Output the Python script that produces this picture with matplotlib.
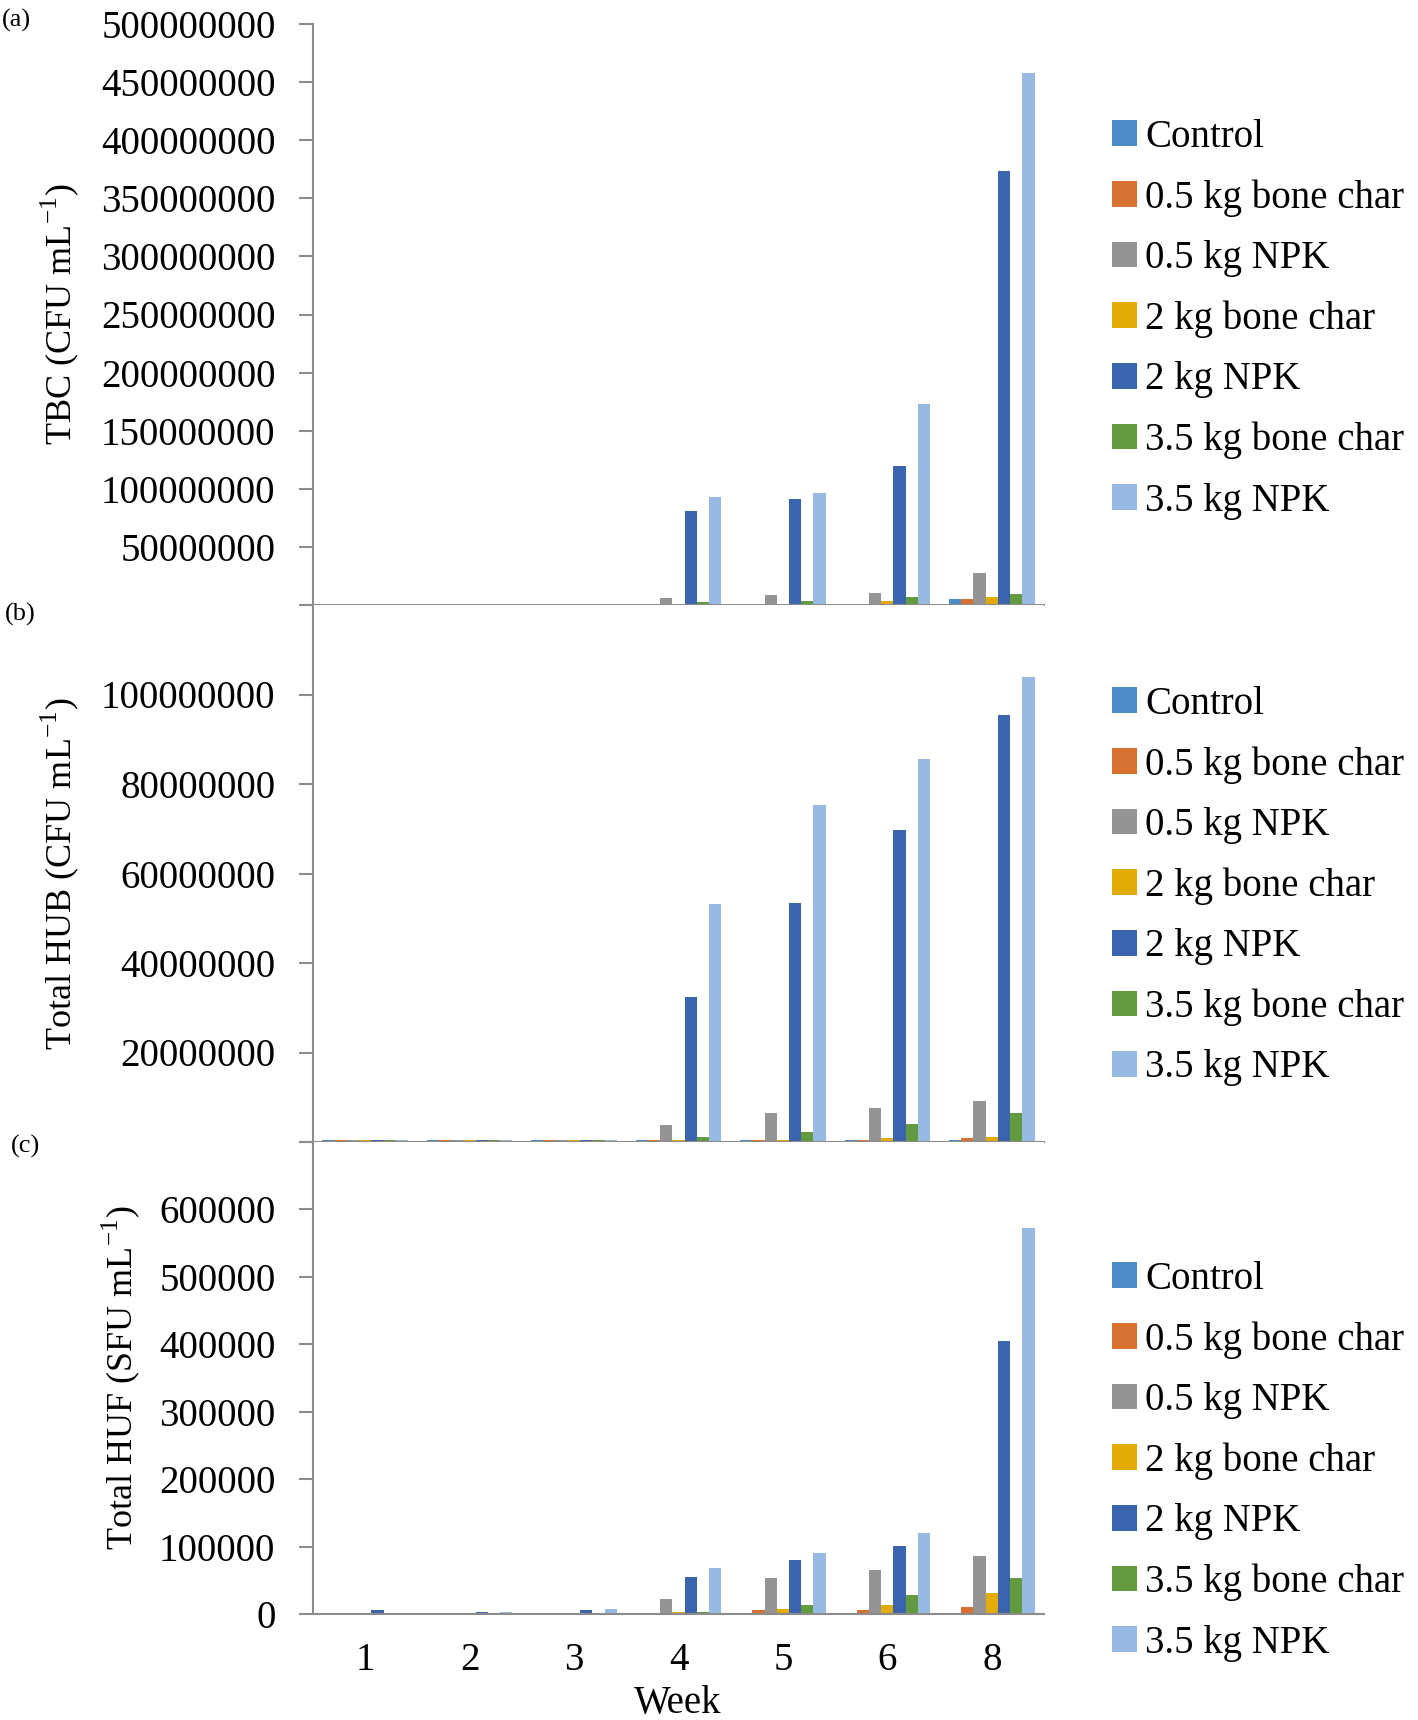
import numpy as np
from matplotlib import pyplot as plt
from matplotlib.patches import Patch

plt.rcParams['font.family'] = ['Liberation Serif', 'DejaVu Serif']
plt.rcParams['mathtext.fontset'] = 'custom'
plt.rcParams['mathtext.rm'] = 'Liberation Serif'

#weeks on the category axis (week 7 was not sampled)
weeks = ['1', '2', '3', '4', '5', '6', '8']
treatments = ['Control', '0.5 kg bone char', '0.5 kg NPK', '2 kg bone char',
              '2 kg NPK', '3.5 kg bone char', '3.5 kg NPK']
colors = ['#4f8bc6', '#d8702f', '#949494', '#e3ab05', '#3a64ad', '#639a3f', '#98b9e1']

#(a) total bacterial count, one list per treatment, values per week
tbc_control = [0, 0, 0, 0, 0, 0, 5.5e6]
tbc_bc05 = [0, 0, 0, 0, 0, 0, 5.5e6]
tbc_npk05 = [0, 0, 0, 5.7e6, 8.3e6, 10e6, 27.3e6]
tbc_bc2 = [0, 0, 0, 0, 0, 3.7e6, 6.9e6]
tbc_npk2 = [0, 0, 0, 81.3e6, 91.4e6, 120e6, 373.6e6]
tbc_bc35 = [0, 0, 0, 2.6e6, 3.7e6, 7.2e6, 9.8e6]
tbc_npk35 = [0, 0, 0, 92.8e6, 96e6, 172.6e6, 457.5e6]

#(b) total heterotrophic bacteria
hub_control = [0.4e6, 0.4e6, 0.4e6, 0.4e6, 0.4e6, 0.4e6, 0.4e6]
hub_bc05 = [0.4e6, 0.4e6, 0.4e6, 0.4e6, 0.4e6, 0.4e6, 0.8e6]
hub_npk05 = [0.4e6, 0.4e6, 0.4e6, 3.9e6, 6.5e6, 7.6e6, 9.1e6]
hub_bc2 = [0.4e6, 0.4e6, 0.4e6, 0.4e6, 0.45e6, 0.8e6, 1.1e6]
hub_npk2 = [0.4e6, 0.4e6, 0.4e6, 32.4e6, 53.4e6, 69.8e6, 95.4e6]
hub_bc35 = [0.4e6, 0.4e6, 0.4e6, 1.1e6, 2.2e6, 4.1e6, 6.4e6]
hub_npk35 = [0.4e6, 0.4e6, 0.4e6, 53.2e6, 75.4e6, 85.6e6, 103.9e6]

#(c) total heterotrophic fungi
huf_control = [0, 0, 0, 0, 0, 0, 0]
huf_bc05 = [0, 0, 0, 0, 5.4e3, 5.4e3, 10.4e3]
huf_npk05 = [0, 0, 0, 22.8e3, 53e3, 65.3e3, 86.1e3]
huf_bc2 = [0, 0, 0, 3e3, 7.9e3, 12.9e3, 30.7e3]
huf_npk2 = [5.4e3, 3e3, 5.4e3, 55.4e3, 80.7e3, 101e3, 405e3]
huf_bc35 = [0, 0, 0, 3e3, 12.9e3, 28.2e3, 53e3]
huf_npk35 = [0, 3e3, 7.9e3, 68.3e3, 90.6e3, 120.8e3, 572e3]

ticks_a = [0, 50e6, 100e6, 150e6, 200e6, 250e6, 300e6, 350e6, 400e6, 450e6, 500e6]
labels_a = ['', '50000000', '100000000', '150000000', '200000000', '250000000',
            '300000000', '350000000', '400000000', '450000000', '500000000']
ticks_b = [0, 20e6, 40e6, 60e6, 80e6, 100e6, 120e6]
labels_b = ['', '20000000', '40000000', '60000000', '80000000', '100000000', '']
ticks_c = [0, 100e3, 200e3, 300e3, 400e3, 500e3, 600e3, 700e3]
labels_c = ['0', '100000', '200000', '300000', '400000', '500000', '600000', '']

panels = [
    ([tbc_control, tbc_bc05, tbc_npk05, tbc_bc2, tbc_npk2, tbc_bc35, tbc_npk35],
     ticks_a, labels_a, 500e6, r'TBC (CFU mL$^{\mathregular{-1}}$)', '(a)'),
    ([hub_control, hub_bc05, hub_npk05, hub_bc2, hub_npk2, hub_bc35, hub_npk35],
     ticks_b, labels_b, 120e6, r'Total HUB (CFU mL$^{\mathregular{-1}}$)', '(b)'),
    ([huf_control, huf_bc05, huf_npk05, huf_bc2, huf_npk2, huf_bc35, huf_npk35],
     ticks_c, labels_c, 700e3, r'Total HUF (SFU mL$^{\mathregular{-1}}$)', '(c)'),
]

W, H = 1418, 1720
fig = plt.figure(figsize=(W / 100, H / 100), dpi=100)

#axes boxes in pixels: (top, bottom)
boxes = [(24, 605), (605, 1142), (1142, 1614)]
ax_left, ax_right = 313, 1044
ylab_x = [60, 60, 121]
letter_pos = [(16, 20), (20, 614), (26, 1146)]
legend_y = [135, 702, 1277]

x = np.arange(len(weeks))
bw = 0.117
fs = 28

for i, (series, ticks, labels, ymax, ylab, letter) in enumerate(panels):
    top, bot = boxes[i]
    ax = fig.add_axes([ax_left / W, 1 - bot / H, (ax_right - ax_left) / W, (bot - top) / H])
    for j, vals in enumerate(series):
        ax.bar(x + (j - 3) * bw, vals, width=bw, color=colors[j], linewidth=0)
    ax.set_xlim(-0.5, len(weeks) - 0.5)
    ax.set_ylim(0, ymax)
    ax.set_yticks(ticks)
    ax.set_yticklabels(labels, fontsize=fs)
    for s in ['top', 'right']:
        ax.spines[s].set_visible(False)
    for s in ['left', 'bottom']:
        ax.spines[s].set_color('#8c8c8c')
        ax.spines[s].set_linewidth(1.5)
    ax.tick_params(axis='y', direction='out', length=10, width=1.5, color='#8c8c8c', pad=17)
    ax.set_xticks(x)
    if i == 2:
        ax.set_xticklabels(weeks, fontsize=fs)
        ax.tick_params(axis='x', length=0, pad=20)
    else:
        ax.set_xticklabels([])
        ax.tick_params(axis='x', length=0)

    fig.text(ylab_x[i] / W, 1 - (top + bot) / 2 / H, ylab, rotation=90,
             ha='center', va='center', fontsize=26)
    lx, ly = letter_pos[i]
    fig.text(lx / W, 1 - ly / H, letter, ha='center', va='center', fontsize=19)

    handles = [Patch(facecolor=c) for c in colors]
    fig.legend(handles, treatments, loc='upper left',
               bbox_to_anchor=(1112 / W, 1 - (legend_y[i] - 16) / H),
               frameon=False, fontsize=fs, handlelength=0.65, handleheight=0.65,
               handletextpad=0.2, labelspacing=0.6, borderpad=0, borderaxespad=0)

fig.text(678 / W, 1 - 1703 / H, 'Week', ha='center', va='center', fontsize=fs)

plt.savefig('out.png', dpi=100)
